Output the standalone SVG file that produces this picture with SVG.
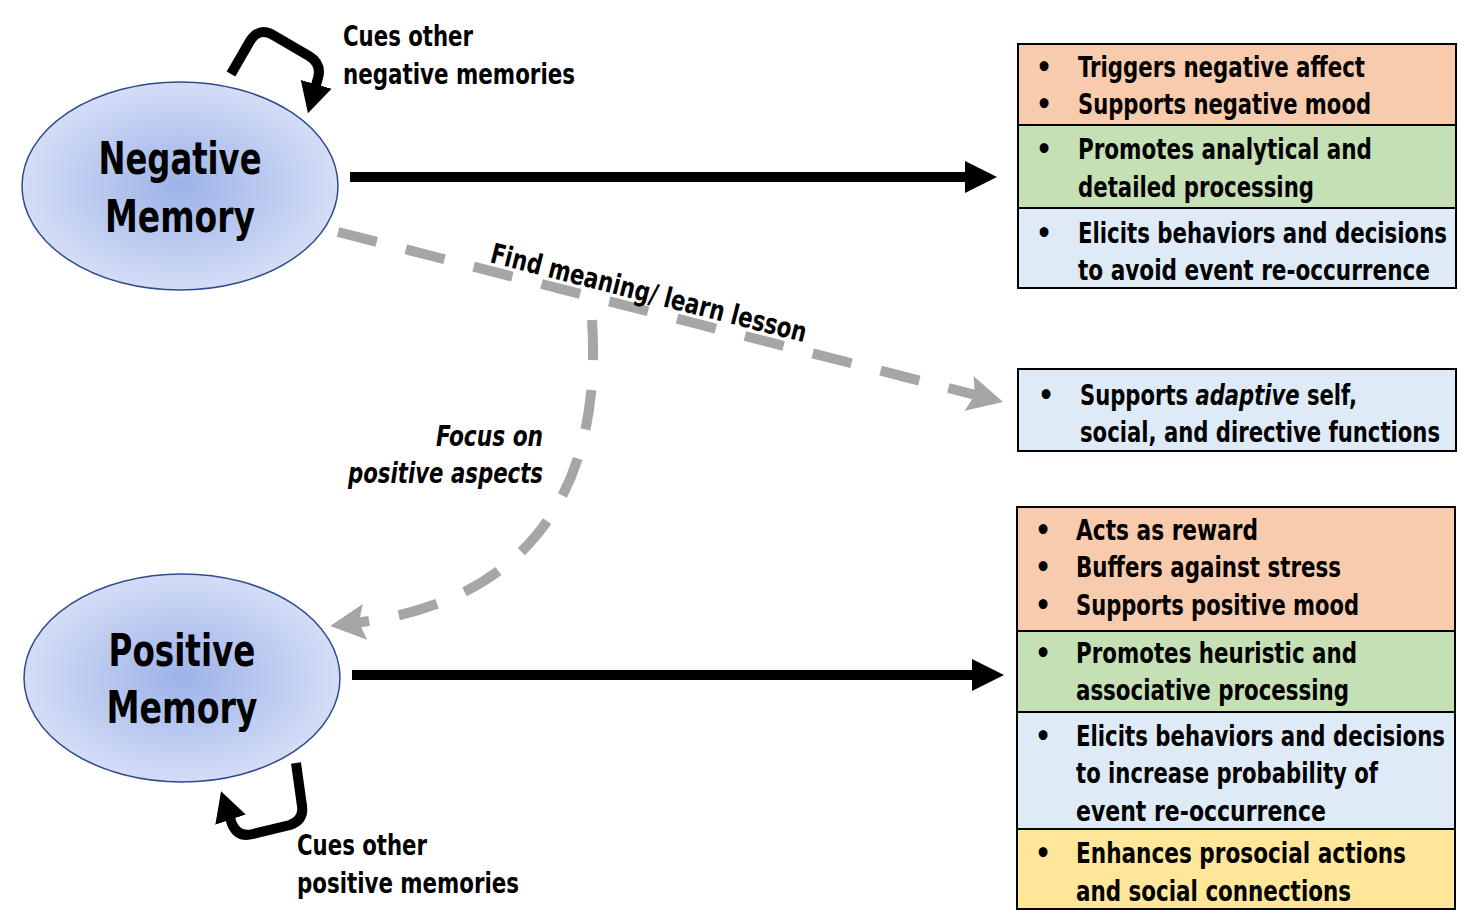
<svg xmlns="http://www.w3.org/2000/svg" width="1466" height="920" viewBox="0 0 1466 920">
<defs>
<radialGradient id="eg" cx="50%" cy="50%" r="50%">
<stop offset="0" stop-color="#9cb2e8"/>
<stop offset="1" stop-color="#d4ddf6"/>
</radialGradient>
<marker id="ga" markerUnits="userSpaceOnUse" markerWidth="40" markerHeight="40" refX="10" refY="18" orient="auto" viewBox="0 0 40 36">
<path d="M0,0 L35,18 L0,36 L6,18 Z" fill="#a6a6a6"/>
</marker>
<marker id="ba" markerUnits="userSpaceOnUse" markerWidth="40" markerHeight="40" refX="8" refY="16" orient="auto" viewBox="0 0 40 32">
<path d="M0,0 L30,16 L0,32 Z" fill="#000"/>
</marker>
</defs>
<style>
.t{font-family:"DejaVu Sans Condensed","Liberation Sans Narrow","DejaVu Sans",sans-serif;font-size:28px;fill:#000;font-weight:bold}
.i{font-style:italic}
.big{font-size:44px}
.box{stroke:#000;stroke-width:2}
.or{fill:#f8cbad}.gr{fill:#c5e0b4}.bl{fill:#deebf7}.ye{fill:#ffe699}
.dash{fill:none;stroke:#a6a6a6;stroke-width:10;stroke-dasharray:40 30}
.solid{fill:none;stroke:#000;stroke-width:10}
.ell{fill:url(#eg);stroke:#2f4b8f;stroke-width:1.5}
</style>

<g id="connectors">
<line class="solid" x1="350" y1="177" x2="968" y2="177"/>
<polygon points="965,161 997,177 965,193" fill="#000"/>
<line class="solid" x1="352" y1="675" x2="975" y2="675"/>
<polygon points="972,659 1004,675 972,691" fill="#000"/>
<path class="dash" d="M338,232 L978.8,395.8" marker-end="url(#ga)"/>
<path class="dash" d="M592,320 C602,470 545,600 355,623" marker-end="url(#ga)"/>
<path class="solid" d="M231,74 L250,41 Q259,27 273,35 L309,56 Q322,64 318,78 L314,92" marker-end="url(#ba)"/>
<path class="solid" d="M296,763 L302,806 Q304,820 290,825 L253,834 Q238,838 232,824 L228,812" marker-end="url(#ba)"/>
</g>

<g id="negative-memory">
<ellipse class="ell" cx="180" cy="186" rx="158" ry="104"/>
<text class="t big" x="180" y="174" text-anchor="middle" textLength="163" lengthAdjust="spacingAndGlyphs">Negative</text>
<text class="t big" x="180" y="232" text-anchor="middle" textLength="150" lengthAdjust="spacingAndGlyphs">Memory</text>
</g>

<g id="positive-memory">
<ellipse class="ell" cx="182" cy="678" rx="158" ry="104"/>
<text class="t big" x="182" y="666" text-anchor="middle" textLength="147" lengthAdjust="spacingAndGlyphs">Positive</text>
<text class="t big" x="182" y="723" text-anchor="middle" textLength="151" lengthAdjust="spacingAndGlyphs">Memory</text>
</g>

<g id="label-cues-negative">
<text class="t" x="343" y="46" textLength="130" lengthAdjust="spacingAndGlyphs">Cues other</text>
<text class="t" x="343" y="84" textLength="232" lengthAdjust="spacingAndGlyphs">negative memories</text>
</g>

<g id="label-cues-positive">
<text class="t" x="297" y="855" textLength="130" lengthAdjust="spacingAndGlyphs">Cues other</text>
<text class="t" x="297" y="893" textLength="222" lengthAdjust="spacingAndGlyphs">positive memories</text>
</g>

<g id="label-find-meaning">
<text class="t" transform="translate(489,262) rotate(14.3)" textLength="325" lengthAdjust="spacingAndGlyphs">Find meaning/ learn lesson</text>
</g>

<g id="label-focus">
<text class="t i" x="543" y="446" text-anchor="end" textLength="107" lengthAdjust="spacingAndGlyphs">Focus on</text>
<text class="t i" x="543" y="483" text-anchor="end" textLength="195" lengthAdjust="spacingAndGlyphs">positive aspects</text>
</g>

<g id="negative-outcomes">
<rect class="box or" x="1018" y="44" width="438" height="81"/>
<rect class="box gr" x="1018" y="125" width="438" height="83"/>
<rect class="box bl" x="1018" y="208" width="438" height="80"/>
<text class="t" x="1036" y="77">•</text>
<text class="t" x="1036" y="114">•</text>
<text class="t" x="1036" y="159">•</text>
<text class="t" x="1036" y="243">•</text>
<text class="t" x="1078" y="77" textLength="287" lengthAdjust="spacingAndGlyphs">Triggers negative affect</text>
<text class="t" x="1078" y="114" textLength="293" lengthAdjust="spacingAndGlyphs">Supports negative mood</text>
<text class="t" x="1078" y="159" textLength="294" lengthAdjust="spacingAndGlyphs">Promotes analytical and</text>
<text class="t" x="1078" y="197" textLength="236" lengthAdjust="spacingAndGlyphs">detailed processing</text>
<text class="t" x="1078" y="243" textLength="369" lengthAdjust="spacingAndGlyphs">Elicits behaviors and decisions</text>
<text class="t" x="1078" y="280" textLength="352" lengthAdjust="spacingAndGlyphs">to avoid event re-occurrence</text>
</g>

<g id="adaptive-outcomes">
<rect class="box bl" x="1018" y="369" width="438" height="82"/>
<text class="t" x="1038" y="405">•</text>
<text class="t" x="1080" y="405" textLength="277" lengthAdjust="spacingAndGlyphs">Supports <tspan class="i">adaptive</tspan> self,</text>
<text class="t" x="1080" y="442" textLength="360" lengthAdjust="spacingAndGlyphs">social, and directive functions</text>
</g>

<g id="positive-outcomes">
<rect class="box or" x="1017" y="507" width="438" height="124"/>
<rect class="box gr" x="1017" y="631" width="438" height="81"/>
<rect class="box bl" x="1017" y="712" width="438" height="117"/>
<rect class="box ye" x="1017" y="829" width="438" height="80"/>
<text class="t" x="1035" y="540">•</text>
<text class="t" x="1035" y="577">•</text>
<text class="t" x="1035" y="615">•</text>
<text class="t" x="1035" y="663">•</text>
<text class="t" x="1035" y="746">•</text>
<text class="t" x="1035" y="863">•</text>
<text class="t" x="1076" y="540" textLength="182" lengthAdjust="spacingAndGlyphs">Acts as reward</text>
<text class="t" x="1076" y="577" textLength="265" lengthAdjust="spacingAndGlyphs">Buffers against stress</text>
<text class="t" x="1076" y="615" textLength="283" lengthAdjust="spacingAndGlyphs">Supports positive mood</text>
<text class="t" x="1076" y="663" textLength="281" lengthAdjust="spacingAndGlyphs">Promotes heuristic and</text>
<text class="t" x="1076" y="700" textLength="273" lengthAdjust="spacingAndGlyphs">associative processing</text>
<text class="t" x="1076" y="746" textLength="369" lengthAdjust="spacingAndGlyphs">Elicits behaviors and decisions</text>
<text class="t" x="1076" y="783" textLength="302" lengthAdjust="spacingAndGlyphs">to increase probability of</text>
<text class="t" x="1076" y="821" textLength="250" lengthAdjust="spacingAndGlyphs">event re-occurrence</text>
<text class="t" x="1076" y="863" textLength="330" lengthAdjust="spacingAndGlyphs">Enhances prosocial actions</text>
<text class="t" x="1076" y="901" textLength="275" lengthAdjust="spacingAndGlyphs">and social connections</text>
</g>
</svg>
